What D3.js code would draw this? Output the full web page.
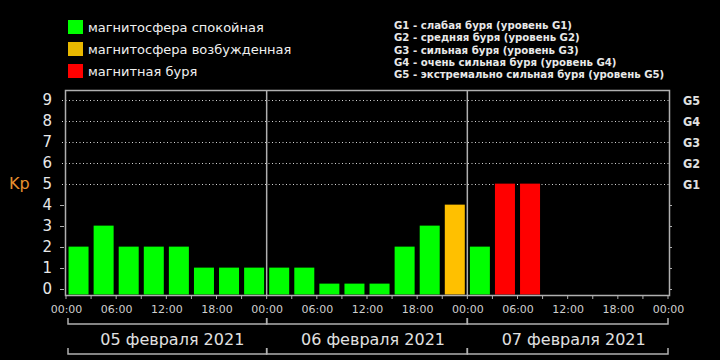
<!DOCTYPE html>
<html><head><meta charset="utf-8">
<script src="https://cdn.jsdelivr.net/npm/d3@7"></script>
<style>html,body{margin:0;padding:0;background:#000;}svg{display:block;}</style>
</head><body>
<script>
// ---- data ----
const days = ["05 февраля 2021", "06 февраля 2021", "07 февраля 2021"];
const kpValues = [2,3,2,2,2,1,1,1, 1,1,0,0,0,2,3,4, 2,5,5];
const kpLevels = ["green","green","green","green","green","green","green","green",
                  "green","green","green","green","green","green","green","yellow",
                  "green","red","red"];
const yTicks = [0,1,2,3,4,5,6,7,8,9];
const gLabels = ["G1","G2","G3","G4","G5"];
const gValues = [5,6,7,8,9];
const hourLabels = ["00:00","06:00","12:00","18:00"];
const legendLeft = ["магнитосфера спокойная","магнитосфера возбужденная","магнитная буря"];
const legendLeftKeys = ["green","yellow","red"];
const legendRight = [
  "G1 - слабая буря (уровень G1)",
  "G2 - средняя буря (уровень G2)",
  "G3 - сильная буря (уровень G3)",
  "G4 - очень сильная буря (уровень G4)",
  "G5 - экстремально сильная буря (уровень G5)"
];
const colors = {green:"#00ff00", yellow:"#ffc000", red:"#ff0000"};
const legendColors = {green:"#00ff00", yellow:"#e8b800", red:"#ff0000"};

const W = 720, H = 360;
const svg = d3.select("body").append("svg").attr("width", W).attr("height", H)
  .style("background", "#000");

const x = d3.scaleLinear().domain([0, 72]).range([66, 668]);
const y = d3.scaleLinear().domain([-0.28, 9.46]).range([294.5, 90]);
const frameL = 65, frameR = 669, frameT = 90, frameB = 295;
const gray = "#b0b0b0";

// gridlines (dotted) for 5..9
svg.append("g").selectAll("line").data(gValues).join("line")
  .attr("x1", 62).attr("x2", frameR + 2)
  .attr("y1", d => Math.round(y(d)) + 0.5).attr("y2", d => Math.round(y(d)) + 0.5)
  .attr("stroke", "#d8d8d8").attr("stroke-width", 1).attr("stroke-dasharray", "1,2.5");

// small ticks for 0..4
const lowTicks = yTicks.filter(d => d < 5);
svg.append("g").selectAll("line").data(lowTicks).join("line")
  .attr("x1", 60).attr("x2", 64)
  .attr("y1", d => Math.round(y(d)) + 0.5).attr("y2", d => Math.round(y(d)) + 0.5)
  .attr("stroke", gray);
svg.append("g").selectAll("line").data(lowTicks).join("line")
  .attr("x1", frameR).attr("x2", frameR + 3)
  .attr("y1", d => Math.round(y(d)) + 0.5).attr("y2", d => Math.round(y(d)) + 0.5)
  .attr("stroke", gray);

// bars
const binW = x(3) - x(0);
const barW = 20;
svg.append("g").selectAll("rect").data(kpValues).join("rect")
  .attr("x", (d, i) => x(i * 3) + binW / 2 - barW / 2)
  .attr("width", barW)
  .attr("y", d => y(d) - (d === 0 ? 5 : 0))
  .attr("height", d => y(-0.28) - y(d) + (d === 0 ? 5 : 0))
  .attr("fill", (d, i) => colors[kpLevels[i]]);

// frame
svg.append("rect").attr("x", frameL + 0.5).attr("y", frameT + 0.5)
  .attr("width", frameR - frameL).attr("height", frameB - frameT)
  .attr("fill", "none").attr("stroke", gray).attr("stroke-width", 1.5);

// day dividers
svg.append("g").selectAll("line").data([24, 48]).join("line")
  .attr("x1", d => x(d)).attr("x2", d => x(d))
  .attr("y1", frameT).attr("y2", frameB)
  .attr("stroke", gray).attr("stroke-width", 1.5);

// x ticks every 3 hours
const xt = d3.range(0, 73, 3);
svg.append("g").selectAll("line").data(xt).join("line")
  .attr("x1", d => x(d)).attr("x2", d => x(d))
  .attr("y1", frameB).attr("y2", frameB + 4)
  .attr("stroke", gray);

// x labels every 6 hours
const xl = d3.range(0, 73, 6);
svg.append("g").selectAll("text").data(xl).join("text")
  .attr("x", d => x(d) + 0.5).attr("y", 313)
  .attr("text-anchor", "middle")
  .attr("font-family", "DejaVu Sans").attr("font-size", 11)
  .attr("fill", "#cfcfcf")
  .text(d => hourLabels[(d / 6) % 4]);

// y labels
svg.append("g").selectAll("text").data(yTicks).join("text")
  .attr("x", 52).attr("y", d => y(d) + 5.5)
  .attr("text-anchor", "end")
  .attr("font-family", "DejaVu Sans").attr("font-size", 15)
  .attr("fill", "#e8e8e8")
  .text(d => d);

// Kp label
svg.append("text").attr("x", 9).attr("y", 189)
  .attr("font-family", "DejaVu Sans").attr("font-size", 16)
  .attr("fill", "#e8902f").text("Kp");

// G labels
svg.append("g").selectAll("text").data(gValues).join("text")
  .attr("x", 683).attr("y", d => y(d) + 5)
  .attr("font-family", "DejaVu Sans Condensed").attr("font-weight", "bold").attr("font-size", 12.5)
  .attr("fill", "#e0e0e0")
  .text((d, i) => gLabels[i]);

// day brackets
const bracketG = svg.append("g").attr("stroke", gray).attr("stroke-width", 1.5).attr("fill", "none");
days.forEach((d, i) => {
  const x0 = x(i * 24) + (i === 0 ? 2 : 0), x1 = x((i + 1) * 24);
  [324, 354].forEach(yy => {
    bracketG.append("path").attr("d", `M${x0},${yy - 6}V${yy}H${x1}V${yy - 6}`);
  });
});
svg.append("g").selectAll("text").data(days).join("text")
  .attr("x", (d, i) => x(i * 24 + 12) + 6).attr("y", 345)
  .attr("text-anchor", "middle")
  .attr("font-family", "DejaVu Sans").attr("font-size", 16)
  .attr("fill", "#e0e0e0")
  .text(d => d);

// left legend
const ll = svg.append("g");
legendLeft.forEach((t, i) => {
  ll.append("rect").attr("x", 68).attr("y", 20 + i * 22).attr("width", 15).attr("height", 14)
    .attr("fill", legendColors[legendLeftKeys[i]]);
  ll.append("text").attr("x", 88).attr("y", 32 + i * 22)
    .attr("font-family", "DejaVu Sans").attr("font-size", 13)
    .attr("fill", "#f0f0f0").text(t);
});

// right legend
svg.append("g").selectAll("text").data(legendRight).join("text")
  .attr("x", 394).attr("y", (d, i) => 29 + i * 12.3)
  .attr("font-family", "DejaVu Sans Condensed").attr("font-weight", "bold").attr("font-size", 11.3)
  .attr("fill", "#e8e8e8")
  .text(d => d);
</script>
</body></html>
